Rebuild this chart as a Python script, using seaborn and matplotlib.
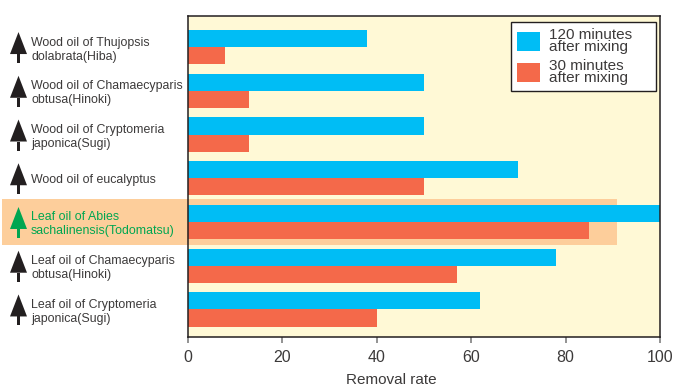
import matplotlib
matplotlib.use("Agg")
import matplotlib.pyplot as plt
from matplotlib.patches import Polygon, Rectangle
from matplotlib.transforms import IdentityTransform
import pandas as pd
import seaborn as sns

oils = [
    "Wood oil of Thujopsis\ndolabrata(Hiba)",
    "Wood oil of Chamaecyparis\nobtusa(Hinoki)",
    "Wood oil of Cryptomeria\njaponica(Sugi)",
    "Wood oil of eucalyptus",
    "Leaf oil of Abies\nsachalinensis(Todomatsu)",
    "Leaf oil of Chamaecyparis\nobtusa(Hinoki)",
    "Leaf oil of Cryptomeria\njaponica(Sugi)",
]
after_120 = [38, 50, 50, 70, 100, 78, 62]
after_30 = [8, 13, 13, 50, 85, 57, 40]
series_names = ["120 minutes\nafter mixing", "30 minutes\nafter mixing"]
highlight_index = 4
highlight_end = 91

BLUE, RED = "#00BDF5", "#F4694A"
CREAM, BAND = "#FFF9D6", "#FDCE9B"
GREEN, TEXT, DARK = "#00A651", "#3C3A3A", "#231F20"

sns.set_theme(style="white")
plt.rcParams["font.family"] = ["Liberation Sans"]

W, H = 675, 388
L, R, T, B = 187.5, 660, 16, 337
fig = plt.figure(figsize=(W / 100, H / 100), dpi=100, facecolor="white")
ax = fig.add_axes([L / W, 1 - B / H, (R - L) / W, (B - T) / H], facecolor=CREAM)

frame = pd.DataFrame({
    "oil": oils * 2,
    "rate": after_120 + after_30,
    "series": [series_names[0]] * len(oils) + [series_names[1]] * len(oils),
})
sns.barplot(data=frame, y="oil", x="rate", hue="series", order=oils,
            hue_order=series_names, palette=[BLUE, RED], width=0.78, gap=0,
            saturation=1, linewidth=0, ax=ax)

ax.set_xlim(0, 100)
ax.set_ylim(6.63, -0.71)
px_per_x = (R - L) / 100

# Highlighted oil: a band running from the label column into the plot
band_left = (2 - L) / px_per_x
ax.add_patch(Rectangle((band_left, highlight_index - 0.53), highlight_end - band_left, 1.06,
                       facecolor=BAND, edgecolor="none", zorder=0.5, clip_on=False))

for side in ax.spines.values():
    side.set_color(DARK)
    side.set_linewidth(1.1)

ax.set_xticks(range(0, 101, 20))
ax.tick_params(axis="x", length=4.5, width=1.2, color="#808080", pad=4.5,
               labelsize=11.5, labelcolor=TEXT, bottom=True)
ax.set_ylabel("")
ax.set_xlabel("")
# Axis title sits left of the plot centre, close to the lower edge of the figure
fig.text(391 / W, 1 - 380.5 / H, "Removal rate", fontsize=11, color=TEXT,
         ha="center", va="center")

# Category names sit left-aligned at a fixed column beside the tree icons
ax.tick_params(axis="y", length=0, pad=(L - 31) * 0.72)
for i, lab in enumerate(ax.get_yticklabels()):
    lab.set_ha("left")
    lab.set_fontsize(8.9)
    lab.set_linespacing(1.22)
    lab.set_color(GREEN if i == highlight_index else TEXT)

# Tree icon next to each category, placed in pixels from the category's y position
fig.canvas.draw()
for i in range(len(oils)):
    yc = ax.transData.transform((0, i))[1]
    col = GREEN if i == highlight_index else DARK
    crown = [(10, yc - 7), (27, yc - 7), (18.5, yc + 15)]
    trunk = [(17, yc - 7), (20, yc - 7), (20, yc - 16), (17, yc - 16)]
    for pts in (crown, trunk):
        fig.add_artist(Polygon(pts, closed=True, facecolor=col, edgecolor="none",
                               transform=IdentityTransform()))

# Legend box spans a fixed width, wider than its contents need
handles, labels = ax.get_legend_handles_labels()
box_x = (510.5 - L) / (R - L)
box_w = 145 / (R - L)
box_top = 1 - (22 - T) / (B - T)
leg = ax.legend(handles, labels, loc="upper left",
                bbox_to_anchor=(box_x, box_top - 69 / (B - T), box_w, 69 / (B - T)),
                mode="expand", borderaxespad=0, frameon=True, fancybox=False, framealpha=1,
                facecolor="white", edgecolor=DARK, fontsize=11,
                handlelength=1.5, handleheight=1.5, handletextpad=0.6,
                labelspacing=0.28, borderpad=0.4)
leg.get_frame().set_linewidth(1.0)
for t in leg.get_texts():
    t.set_color(TEXT)
    t.set_linespacing(0.84)

fig.savefig("out.png", dpi=100)
